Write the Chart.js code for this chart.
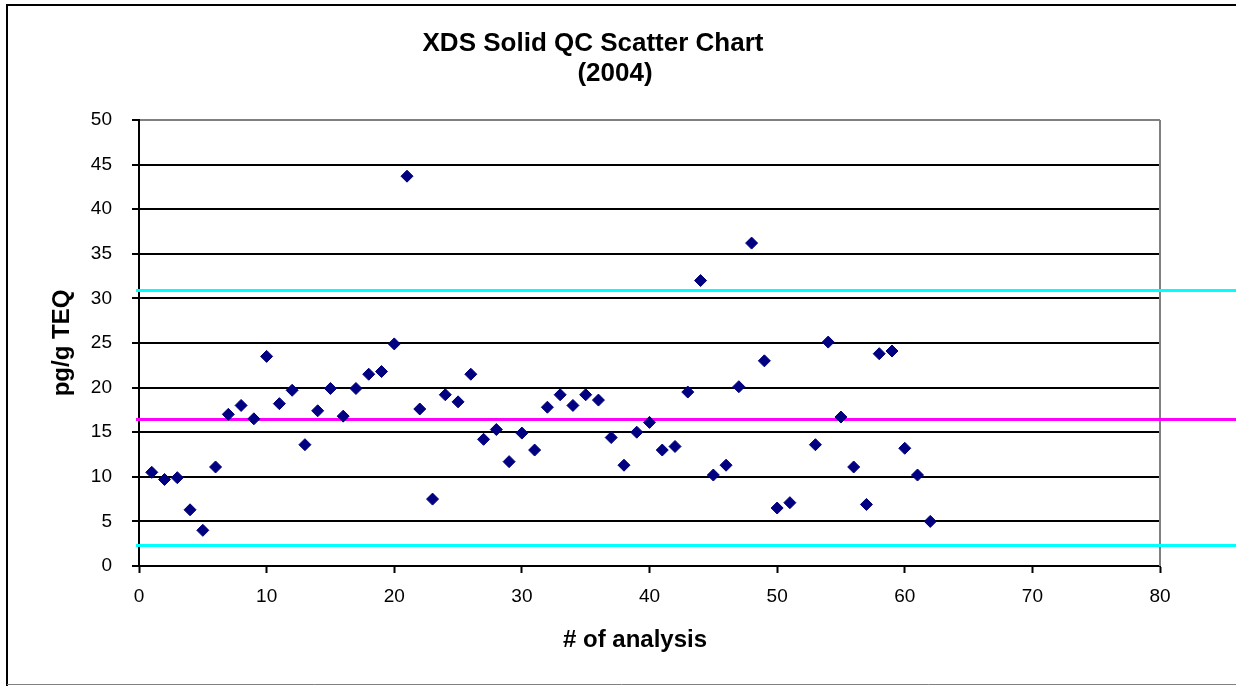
<!DOCTYPE html>
<html>
<head>
<meta charset="utf-8">
<script src="https://cdn.jsdelivr.net/npm/chart.js@4/dist/chart.umd.min.js"></script>
<style>
  html, body { margin: 0; padding: 0; background: #fff; }
  #wrap { width: 1236px; height: 686px; position: relative; }
</style>
</head>
<body>
<div id="wrap"><canvas id="c" width="1236" height="686"></canvas></div>
<script>
// ---- data ----
const chartTitle = ['XDS Solid QC Scatter Chart', '(2004)'];
const xTitle = '# of analysis';
const yTitle = 'pg/g TEQ';

const analysisNo = [
  1, 2, 3, 4, 5, 6, 7, 8, 9, 10,
  11, 12, 13, 14, 15, 16, 17, 18, 19, 20,
  21, 22, 23, 24, 25, 26, 27, 28, 29, 30,
  31, 32, 33, 34, 35, 36, 37, 38, 39, 40,
  41, 42, 43, 44, 45, 46, 47, 48, 49, 50,
  51, 53, 54, 55, 56, 57, 58, 59, 60, 61, 62
];
const teqValues = [
  10.5, 9.7, 9.9, 6.3, 4.0, 11.1, 17.0, 18.0, 16.5, 23.5,
  18.2, 19.7, 13.6, 17.4, 19.9, 16.8, 19.9, 21.5, 21.8, 24.9,
  43.7, 17.6, 7.5, 19.2, 18.4, 21.5, 14.2, 15.3, 11.7, 14.9,
  13.0, 17.8, 19.2, 18.0, 19.2, 18.6, 14.4, 11.3, 15.0, 16.1,
  13.0, 13.4, 19.5, 32.0, 10.2, 11.3, 20.1, 36.2, 23.0, 6.5,
  7.1, 13.6, 25.1, 16.7, 11.1, 6.9, 23.8, 24.1, 13.2, 10.2, 5.0
];
// control limits: upper, mean, lower
const limitValues = [30.95, 16.5, 2.3];
const limitColors = ['#00FFFF', '#FF00FF', '#00FFFF'];

const xMin = 0, xMax = 80, xStep = 10;
const yMin = 0, yMax = 50, yStep = 5;

const FONT = '"Liberation Sans", Arial, Helvetica, sans-serif';

const points = analysisNo.map((x, i) => ({ x: x, y: teqValues[i] }));

const decor = {
  id: 'decor',
  beforeDraw(chart) {
    const ctx = chart.ctx;
    ctx.save();
    ctx.fillStyle = '#fff';
    ctx.fillRect(0, 0, chart.width, chart.height);
    // outer frame
    ctx.strokeStyle = '#000';
    ctx.lineWidth = 2;
    ctx.beginPath();
    ctx.moveTo(7, chart.height);
    ctx.lineTo(7, 5);
    ctx.lineTo(chart.width, 5);
    ctx.stroke();
    ctx.strokeStyle = '#808080';
    ctx.lineWidth = 1;
    ctx.beginPath();
    ctx.moveTo(7, chart.height - 1.5);
    ctx.lineTo(chart.width, chart.height - 1.5);
    ctx.stroke();
    ctx.restore();
  },
  beforeDatasetsDraw(chart) {
    const ctx = chart.ctx;
    const a = chart.chartArea;
    const ys = chart.scales.y;
    ctx.save();
    // right plot border
    ctx.strokeStyle = '#808080';
    ctx.lineWidth = 2;
    ctx.beginPath();
    ctx.moveTo(a.right, a.top);
    ctx.lineTo(a.right, a.bottom);
    ctx.stroke();
    // control limit lines
    ctx.lineWidth = 3;
    limitValues.forEach((v, i) => {
      const py = Math.round(ys.getPixelForValue(v)) + 0.5;
      ctx.strokeStyle = limitColors[i];
      ctx.beginPath();
      ctx.moveTo(a.left - 3, py);
      ctx.lineTo(chart.width, py);
      ctx.stroke();
    });
    ctx.restore();
  },
  afterDraw(chart) {
    const ctx = chart.ctx;
    ctx.save();
    ctx.fillStyle = '#000';
    ctx.textAlign = 'center';
    ctx.textBaseline = 'alphabetic';
    ctx.font = 'bold 26px ' + FONT;
    ctx.fillText(chartTitle[0], 593, 51);
    ctx.fillText(chartTitle[1], 615, 81);
    ctx.font = 'bold 24px ' + FONT;
    ctx.fillText(xTitle, 635, 647);
    ctx.restore();
  }
};

new Chart(document.getElementById('c'), {
  type: 'scatter',
  data: {
    datasets: [{
      data: points,
      pointStyle: 'rectRot',
      pointRadius: 6,
      pointHoverRadius: 6,
      pointBorderWidth: 1,
      backgroundColor: '#000080',
      borderColor: '#000080',
      showLine: false
    }]
  },
  options: {
    responsive: false,
    animation: false,
    events: [],
    layout: { padding: { top: 120, right: 76, bottom: 0, left: 0 } },
    plugins: {
      legend: { display: false },
      tooltip: { enabled: false },
      title: { display: false }
    },
    scales: {
      x: {
        type: 'linear',
        min: xMin, max: xMax,
        afterFit(scale) { scale.height = 120; },
        ticks: {
          stepSize: xStep,
          color: '#000',
          padding: 12,
          maxRotation: 0,
          font: { family: FONT, size: 19 }
        },
        grid: {
          drawOnChartArea: false,
          drawTicks: true,
          tickLength: 7,
          tickColor: '#000',
          tickWidth: 2
        },
        border: { color: '#000', width: 2 },
        title: { display: false }
      },
      y: {
        type: 'linear',
        min: yMin, max: yMax,
        afterFit(scale) { scale.width = 139; },
        ticks: {
          stepSize: yStep,
          color: '#000',
          padding: 20,
          font: { family: FONT, size: 19 }
        },
        grid: {
          color: (c) => (c.tick && c.tick.value === yMax) ? '#808080' : '#000',
          lineWidth: 2,
          tickLength: 7,
          tickColor: '#000',
          tickWidth: 2
        },
        border: { color: '#000', width: 2 },
        title: {
          display: true,
          text: yTitle,
          color: '#000',
          font: { family: FONT, size: 24, weight: 'bold' },
          padding: { top: 48, bottom: 0 }
        }
      }
    }
  },
  plugins: [decor]
});
</script>
</body>
</html>
